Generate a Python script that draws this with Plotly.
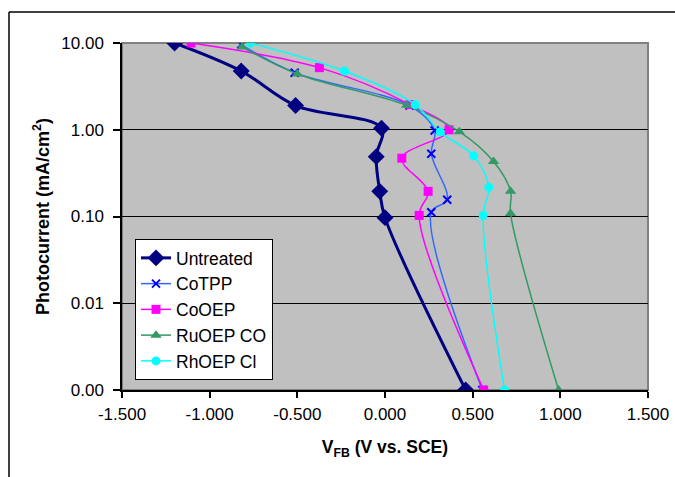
import plotly.graph_objects as go

# ---- data ----
untreated_x = [-1.20, -0.82, -0.51, -0.02, -0.05, -0.03, 0.00, 0.46]
untreated_y = [10.0, 4.75, 1.90, 1.04, 0.49, 0.195, 0.097, 0.001]

cotpp_x = [-0.82, -0.515, 0.14, 0.283, 0.264, 0.355, 0.264, 0.555]
cotpp_y = [9.6, 4.55, 1.90, 0.98, 0.53, 0.156, 0.112, 0.001]

cooep_x = [-1.106, -0.374, 0.143, 0.365, 0.096, 0.246, 0.195, 0.563]
cooep_y = [10.0, 5.2, 1.95, 1.00, 0.47, 0.195, 0.103, 0.001]

ruoep_x = [-0.815, -0.50, 0.124, 0.424, 0.619, 0.716, 0.716, 0.99]
ruoep_y = [9.0, 4.4, 1.91, 0.95, 0.43, 0.195, 0.108, 0.001]

rhoep_x = [-0.768, -0.231, 0.172, 0.315, 0.506, 0.592, 0.560, 0.682]
rhoep_y = [10.0, 4.75, 1.95, 0.94, 0.50, 0.218, 0.103, 0.001]

y_tickvals = [0.001, 0.01, 0.1, 1, 10]
y_ticktext = ["0.00", "0.01", "0.10", "1.00", "10.00"]
x_tickvals = [-1.5, -1.0, -0.5, 0.0, 0.5, 1.0, 1.5]
x_ticktext = ["-1.500", "-1.000", "-0.500", "0.000", "0.500", "1.000", "1.500"]

FONT = "Liberation Sans, Arial, sans-serif"

fig = go.Figure()
fig.add_trace(go.Scatter(
    x=untreated_x, y=untreated_y, name="Untreated", mode="lines+markers",
    line=dict(color="#000080", width=3, shape="spline"),
    marker=dict(symbol="diamond", size=13, color="#000080")))
fig.add_trace(go.Scatter(
    x=cotpp_x, y=cotpp_y, name="CoTPP", mode="lines+markers",
    line=dict(color="#3366FF", width=1.5, shape="spline"),
    marker=dict(symbol="x-thin", size=8, color="#0000FF",
                line=dict(color="#0000FF", width=2))))
fig.add_trace(go.Scatter(
    x=cooep_x, y=cooep_y, name="CoOEP", mode="lines+markers",
    line=dict(color="#FF00FF", width=1.5, shape="spline"),
    marker=dict(symbol="square", size=9, color="#FF00FF")))
fig.add_trace(go.Scatter(
    x=ruoep_x, y=ruoep_y, name="RuOEP CO", mode="lines+markers",
    line=dict(color="#339966", width=1.5, shape="spline"),
    marker=dict(symbol="triangle-up", size=10, color="#339966")))
fig.add_trace(go.Scatter(
    x=rhoep_x, y=rhoep_y, name="RhOEP Cl", mode="lines+markers",
    line=dict(color="#00FFFF", width=1.5, shape="spline"),
    marker=dict(symbol="circle", size=9, color="#00FFFF")))

# plot area at screen pixels x 122..648, y 43..390 (body margin removed)
W, H = 675, 477
PW, PH = 526, 347
L, T = 122, 43
R, B = W - L - PW, H - T - PH

def px_x(p):  # screen pixel -> paper x
    return (p - L) / PW

def px_y(p):  # screen pixel -> paper y
    return (T + PH - p) / PH

fig.update_layout(
    width=W, height=H,
    margin=dict(l=L, r=R, t=T, b=B, autoexpand=False),
    paper_bgcolor="white",
    plot_bgcolor="#C0C0C0",
    font=dict(family=FONT, size=17, color="black"),
    showlegend=True,
    legend=dict(
        x=px_x(135), y=px_y(239), xanchor="left", yanchor="top",
        bgcolor="white", bordercolor="black", borderwidth=1,
        font=dict(family=FONT, size=17.5, color="black"),
        tracegroupgap=0,
    ),
    xaxis=dict(
        range=[-1.5, 1.5], tickvals=x_tickvals, ticktext=x_ticktext,
        showgrid=False, zeroline=False,
        showline=True, linecolor="black", linewidth=1.5,
        ticks="outside", ticklen=6, tickcolor="black", tickwidth=1.5,
        tickfont=dict(family=FONT, size=17),
        ticklabelstandoff=2,
        title=dict(text="<b>V<sub>FB</sub> (V vs. SCE)</b>",
                   font=dict(family=FONT, size=17.5), standoff=18),
        automargin=False,
    ),
    yaxis=dict(
        type="log", range=[-3, 1], tickvals=y_tickvals, ticktext=y_ticktext,
        showgrid=True, gridcolor="black", gridwidth=1.2,
        zeroline=False,
        showline=True, linecolor="black", linewidth=1.5,
        ticks="outside", ticklen=7, tickcolor="black", tickwidth=1.5,
        tickfont=dict(family=FONT, size=17),
        ticklabelstandoff=6,
        title=dict(text="<b>Photocurrent (mA/cm<sup>2</sup>)</b>",
                   font=dict(family=FONT, size=18), standoff=7),
        automargin=False,
    ),
    shapes=[
        # plot-area border (grey, top & right visible)
        dict(type="rect", xref="paper", yref="paper", x0=0, x1=1, y0=0, y1=1,
             line=dict(color="#808080", width=2), layer="below"),
        # outer chart frame: left and top edges
        dict(type="line", xref="paper", yref="paper",
             x0=px_x(9), x1=px_x(9), y0=px_y(477), y1=px_y(12),
             line=dict(color="black", width=1.5)),
        dict(type="line", xref="paper", yref="paper",
             x0=px_x(9), x1=px_x(675), y0=px_y(12), y1=px_y(12),
             line=dict(color="black", width=1.5)),
    ],
)

fig.write_html(
    "out.html",
    config={"displayModeBar": False},
    post_script=("document.body.style.margin='0';"
                 "document.documentElement.style.overflow='hidden';"
                 "document.body.style.overflow='hidden';"),
)
